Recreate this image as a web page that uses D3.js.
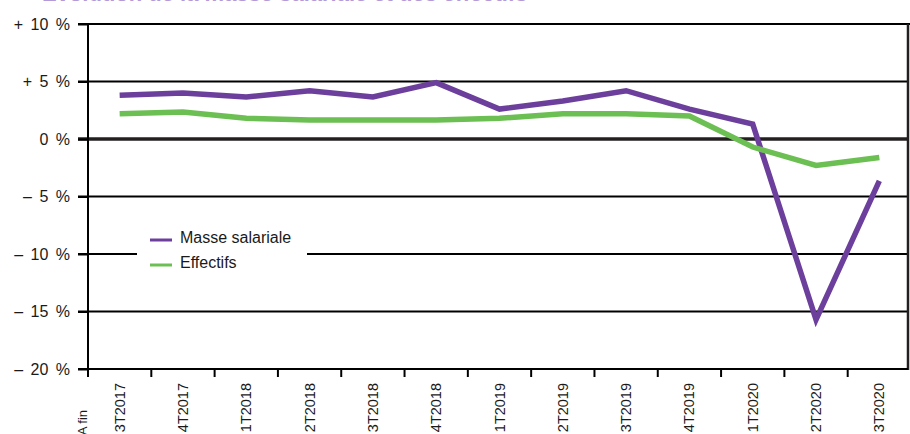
<!DOCTYPE html>
<html><head><meta charset="utf-8">
<script src="https://cdn.jsdelivr.net/npm/d3@7"></script>
<style>
body{margin:0;background:#fff;}
svg{display:block;font-family:"Liberation Sans",Arial,sans-serif;}
</style></head>
<body>
<svg id="chart" width="910" height="434"></svg>
<script>
const categories = ["3T2017","4T2017","1T2018","2T2018","3T2018","4T2018","1T2019","2T2019","3T2019","4T2019","1T2020","2T2020","3T2020"];
const masseSalariale = [3.8, 4.0, 3.65, 4.2, 3.65, 4.9, 2.6, 3.3, 4.2, 2.6, 1.3, -15.7, -3.65];
const effectifs = [2.2, 2.35, 1.8, 1.65, 1.65, 1.65, 1.8, 2.2, 2.2, 2.0, -0.7, -2.3, -1.6];
const yTicks = [10, 5, 0, -5, -10, -15, -20];
const yTickLabels = ["+ 10 %", "+ 5 %", "0 %", "\u2013 5 %", "\u2013 10 %", "\u2013 15 %", "\u2013 20 %"];
const seriesNames = ["Masse salariale", "Effectifs"];
const colors = ["#6c3f9c", "#6cbf52"];

const svg = d3.select("#chart");
const mLeft = 88, mRight = 911, mTop = 24, mBottom = 369;
const x = d3.scaleBand().domain(categories).range([mLeft, mRight]);
const y = d3.scaleLinear().domain([-20, 10]).range([mBottom, mTop]);

// title (cropped at the top edge, as in the source image)
svg.append("text").attr("x", 42).attr("y", 1)
  .attr("fill", "#b49ad6").attr("font-size", 22).attr("font-weight", "bold")
  .text("Évolution de la masse salariale et des effectifs");

// gridlines
yTicks.forEach(v => {
  if (v === -20) return;
  svg.append("line")
    .attr("x1", 78).attr("x2", v === 10 ? 910 : 908)
    .attr("y1", y(v)).attr("y2", y(v))
    .attr("stroke", v === 0 ? "#231f20" : "#000")
    .attr("stroke-width", v === 0 ? 3.5 : 2);
});
// right border
svg.append("line").attr("x1", 908).attr("x2", 908).attr("y1", mTop).attr("y2", mBottom + 1)
  .attr("stroke", "#231f20").attr("stroke-width", 2.5);

// y axis
const yAxis = d3.axisLeft(y).tickValues(yTicks)
  .tickFormat((d, i) => yTickLabels[i]).tickSize(10).tickPadding(8);
const gy = svg.append("g").attr("transform", `translate(${mLeft},0)`).call(yAxis);
gy.select(".domain").attr("stroke", "#000").attr("stroke-width", 2).attr("d", `M0,${mTop}V${mBottom + 8}`);
gy.selectAll(".tick line").attr("stroke", "#000").attr("stroke-width", 2);
gy.selectAll(".tick text").attr("font-size", 16).attr("fill", "#1a1a1a")
  .attr("word-spacing", "3px")
  .attr("font-family", "Liberation Sans, Arial, sans-serif");

// x axis baseline & ticks
svg.append("line").attr("x1", 78).attr("x2", 908).attr("y1", mBottom).attr("y2", mBottom)
  .attr("stroke", "#000").attr("stroke-width", 2);
const boundaries = categories.map(c => x(c));
svg.selectAll(".xtick").data(boundaries).enter().append("line")
  .attr("x1", d => d).attr("x2", d => d).attr("y1", mBottom).attr("y2", mBottom + 8)
  .attr("stroke", "#000").attr("stroke-width", 2);

// x labels
svg.selectAll(".xlab").data(categories).enter().append("text")
  .attr("transform", d => `translate(${x(d) + x.bandwidth() / 2 + 5},${mBottom + 14}) rotate(-90)`)
  .attr("text-anchor", "end").attr("font-size", 14.5).attr("fill", "#1a1a1a")
  .text(d => d);
svg.append("text")
  .attr("transform", `translate(${mLeft - 1},${mBottom + 41}) rotate(-90)`)
  .attr("text-anchor", "end").attr("font-size", 13).attr("fill", "#1a1a1a")
  .text("A fin");

// lines
const line = d3.line().x((d, i) => x(categories[i]) + x.bandwidth() / 2).y(d => y(d));
[masseSalariale, effectifs].forEach((s, k) => {
  svg.append("path").datum(s).attr("d", line)
    .attr("fill", "none").attr("stroke", colors[k]).attr("stroke-width", 5.5)
    .attr("stroke-linejoin", "miter");
});

// legend
svg.append("rect").attr("x", 137).attr("y", 226).attr("width", 170).attr("height", 50).attr("fill", "#fff");
seriesNames.forEach((n, i) => {
  const ly = 240 + i * 25;
  svg.append("line").attr("x1", 150).attr("x2", 172).attr("y1", ly).attr("y2", ly)
    .attr("stroke", colors[i]).attr("stroke-width", 3);
  svg.append("text").attr("x", 180).attr("y", ly + 3).attr("font-size", 16)
    .attr("fill", "#1a1a1a").text(n);
});
</script>
</body></html>
